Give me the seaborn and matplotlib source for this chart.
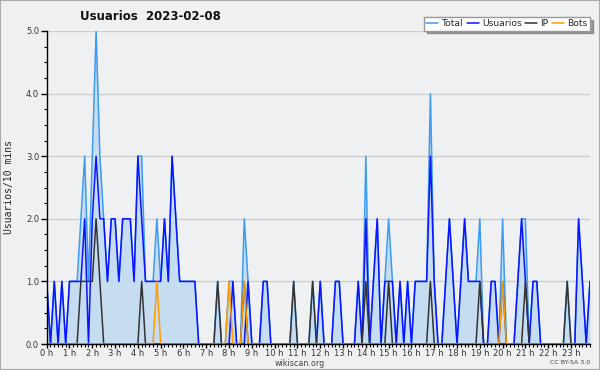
import numpy as np
import pandas as pd
import matplotlib
matplotlib.use("Agg")
import matplotlib.pyplot as plt
import seaborn as sns
from matplotlib.lines import Line2D
from matplotlib.patches import Rectangle
from matplotlib.ticker import FixedLocator, MultipleLocator

sns.set_style("ticks")
plt.rcParams['font.family'] = ['DejaVu Sans']

hour_labels = [f"{h} h" for h in range(24)]

total = [1,0,1,0,1,0,1,1,1,2,
         3,1,3,5,3,2,1,2,2,1,
         2,2,2,1,3,3,1,1,1,2,
         1,2,1,3,2,1,1,1,1,1,
         0,0,0,0,0,1,0,0,1,1,
         0,0,2,1,0,0,0,1,1,0,
         0,0,0,0,0,1,0,0,0,0,
         1,0,1,0,0,0,1,1,0,0,
         0,0,1,0,3,0,1,2,0,1,
         2,1,0,1,0,1,0,1,1,1,
         1,4,1,0,0,1,2,1,0,1,
         2,1,1,1,2,0,0,1,1,0,
         2,0,0,0,1,2,2,0,1,1,
         0,0,0,0,0,0,0,1,0,0,
         2,1,0,1]
usuarios = [1,0,1,0,1,0,1,1,1,1,
            2,0,2,3,2,2,1,2,2,1,
            2,2,2,1,3,2,1,1,1,1,
            1,2,1,3,2,1,1,1,1,1,
            0,0,0,0,0,0,0,0,0,1,
            0,0,0,1,0,0,0,1,1,0,
            0,0,0,0,0,0,0,0,0,0,
            0,0,1,0,0,0,1,1,0,0,
            0,0,1,0,2,0,1,2,0,1,
            1,1,0,1,0,1,0,1,1,1,
            1,3,1,0,0,1,2,1,0,1,
            2,1,1,1,1,0,0,1,1,0,
            0,0,0,0,1,2,1,0,1,1,
            0,0,0,0,0,0,0,0,0,0,
            2,1,0,1]
ip = [0,0,0,0,0,0,0,0,0,1,
      1,1,1,2,1,0,0,0,0,0,
      0,0,0,0,0,1,0,0,0,0,
      0,0,0,0,0,0,0,0,0,0,
      0,0,0,0,0,1,0,0,0,0,
      0,0,1,0,0,0,0,0,0,0,
      0,0,0,0,0,1,0,0,0,0,
      1,0,0,0,0,0,0,0,0,0,
      0,0,0,0,1,0,0,0,0,0,
      1,0,0,0,0,0,0,0,0,0,
      0,1,0,0,0,0,0,0,0,0,
      0,0,0,0,1,0,0,0,0,0,
      1,0,0,0,0,0,1,0,0,0,
      0,0,0,0,0,0,0,1,0,0,
      0,0,0,0]
bots = [0,0,0,0,0,0,0,0,0,0,
        0,0,0,0,0,0,0,0,0,0,
        0,0,0,0,0,0,0,0,0,1,
        0,0,0,0,0,0,0,0,0,0,
        0,0,0,0,0,0,0,0,1,0,
        0,0,1,0,0,0,0,0,0,0,
        0,0,0,0,0,0,0,0,0,0,
        0,0,0,0,0,0,0,0,0,0,
        0,0,0,0,0,0,0,0,0,0,
        0,0,0,0,0,0,0,0,0,0,
        0,0,0,0,0,0,0,0,0,0,
        0,0,0,0,0,0,0,0,0,0,
        1,0,0,0,0,0,0,0,0,0,
        0,0,0,0,0,0,0,0,0,0,
        0,0,0,0]

series_names = ["Total", "Usuarios", "IP", "Bots"]
colors = {"Total": "#3d9bf0", "Usuarios": "#0a14ff", "IP": "#333333", "Bots": "#ff9a00"}
fill_color = "#c6dcf0"
bg = "#eff0f2"

idx = np.arange(len(total))
df = pd.DataFrame({"slot": idx, "Total": total, "Usuarios": usuarios, "IP": ip, "Bots": bots})

fig = plt.figure(figsize=(6, 3.7), dpi=100, facecolor=bg)
ax = fig.add_axes([46.7/600, 26/370, (590-46.7)/600, 313/370])
ax.set_facecolor(bg)

ax.fill_between(df["slot"], df["Total"], 0, color=fill_color, lw=0, zorder=1)
for name in series_names:
    sns.lineplot(data=df, x="slot", y=name, color=colors[name], lw=1.1, ax=ax, zorder=3)

ax.set_xlim(0, len(total) - 1)
ax.set_ylim(0, 5)
ax.set_xlabel("")
ax.set_ylabel("")

ax.xaxis.set_major_locator(FixedLocator(list(range(0, 144, 6))))
ax.set_xticklabels(hour_labels)
ax.xaxis.set_minor_locator(MultipleLocator(1))
ax.yaxis.set_major_locator(FixedLocator([0, 1, 2, 3, 4, 5]))
ax.set_yticklabels([f"{v:.1f}" for v in range(6)])
ax.yaxis.set_minor_locator(MultipleLocator(0.25))

ax.tick_params(axis="x", which="major", length=3, width=1, color="black",
               labelsize=6, labelcolor="#333333", pad=0.5, direction="out")
ax.tick_params(axis="y", which="major", length=4, width=1, color="black",
               labelsize=6, labelcolor="#333333", pad=1.5, direction="out")
ax.tick_params(axis="both", which="minor", length=2.5, width=0.8, color="black", direction="out")

ax.grid(axis="y", color="#cfcfcf", lw=1, zorder=0)
ax.grid(axis="x", visible=False)
ax.set_axisbelow(True)
for s in ["top", "right"]:
    ax.spines[s].set_visible(False)
for s in ["left", "bottom"]:
    ax.spines[s].set_color("black")
    ax.spines[s].set_linewidth(1)
    ax.spines[s].set_zorder(5)

fig.text(150/600, 1 - 16/370, "Usuarios  2023-02-08", ha="center", va="center",
         fontsize=8.5, fontweight="bold", color="#111111")
fig.text(9/600, 1 - 187/370, "Usuarios/10 mins", rotation=90, ha="center", va="center",
         fontsize=7, color="#222222", family="DejaVu Sans Mono")
fig.text(300/600, 1 - 363/370, "wikiscan.org", ha="center", va="center",
         fontsize=5.8, color="#444444")
fig.text(590/600, 1 - 363/370, "CC BY-SA 3.0", ha="right", va="center",
         fontsize=4.5, color="#444444")

handles = [Line2D([], [], color=colors[n], lw=1.1) for n in series_names]
leg = fig.legend(handles, series_names, ncol=4, loc="upper right",
                 bbox_to_anchor=(590/600, 1 - 17/370), fontsize=6.6, frameon=True,
                 shadow=True, fancybox=False, handlelength=1.3, handletextpad=0.35,
                 columnspacing=0.4, borderpad=0.25, borderaxespad=0)
leg.get_frame().set_edgecolor("#999999")
leg.get_frame().set_facecolor("white")
leg.get_frame().set_linewidth(1)

fig.patches.append(Rectangle((0, 0), 1, 1, transform=fig.transFigure, fill=False,
                             ec="#aaaaaa", lw=1.5))

fig.savefig("out.png", dpi=100, facecolor=bg)
